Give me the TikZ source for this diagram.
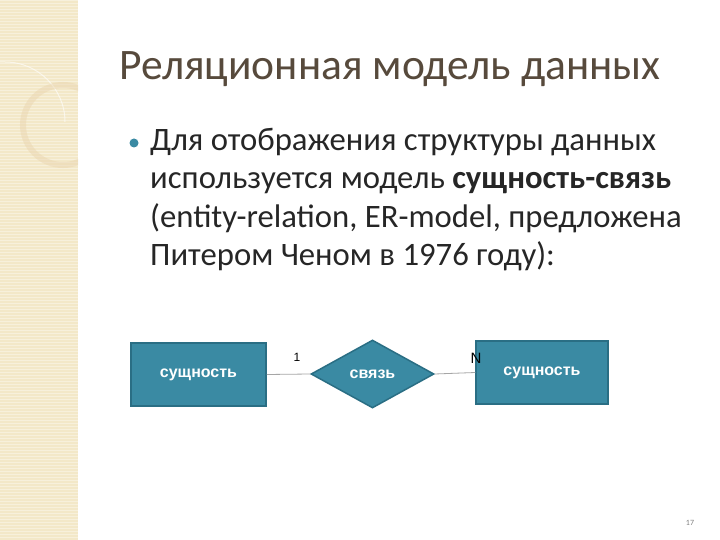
\documentclass[tikz,border=0pt]{standalone}
\usepackage{fontspec}
\setmainfont{Carlito}
\newfontfamily\arialf{Liberation Sans}
\usetikzlibrary{shapes.geometric}
\definecolor{teal1}{HTML}{3A8AA3}
\definecolor{teal2}{HTML}{2A6E84}
\definecolor{strip}{HTML}{F3E8C8}
\definecolor{titlec}{HTML}{574A3C}
\tikzset{
  ent/.style={draw=teal2,line width=1.5pt,fill=teal1,minimum width=135pt,minimum height=63pt,text=white,font=\arialf\bfseries\fontsize{16}{18}\selectfont},
  rel/.style={diamond,draw=teal2,line width=1.5pt,fill=teal1,minimum width=123pt,minimum height=68pt,inner sep=0pt,aspect=1.8,text=white,font=\arialf\bfseries\fontsize{16}{18}\selectfont},
  conn/.style={draw=gray!70,line width=0.8pt},
  card/.style={font=\arialf\fontsize{12}{14}\selectfont},
  body/.style={anchor=base west,font=\fontsize{32.7}{36}\selectfont,text=black!85,inner sep=0pt}
}
\begin{document}
\begin{tikzpicture}[x=1pt,y=-1pt]
\useasboundingbox (0,0) rectangle (720,540);
\fill[white] (0,0) rectangle (720,540);
\fill[strip] (0,0) rectangle (78,540);
\foreach \yy in {0,3,...,540}{\draw[white,opacity=0.35,line width=0.5pt] (0,\yy) -- (78,\yy);}
\begin{scope}
\clip (0,0) rectangle (78,540);
\draw[white,opacity=0.6,line width=1pt] (0,62) -- (5,62) arc[start angle=-90,end angle=0,radius=60];
\draw[strip!80!brown,opacity=0.45,line width=6pt] (63,125) circle[radius=40];
\end{scope}
\node[anchor=base west,inner sep=0pt,text=titlec,font=\fontsize{43.5}{46}\selectfont] (title) at (119,80) {Реляционная модель данных};
\node[circle,fill=teal1,minimum size=9pt,inner sep=0pt] (bul) at (134,143) {};
\node[body] (l1) at (150,151) {Для отображения структуры данных};
\node[body] (l2) at (150,189) {используется модель \textbf{сущность-связь}};
\node[body] (l3) at (150,227) {(entity-relation, ER-model, предложена};
\node[body] (l4) at (150,265) {Питером Ченом в 1976 году):};
\node[ent] (e1) at (198.5,374.5) {сущность};
\node[rel] (r) at (372.5,374) {связь};
\node[ent,minimum width=132pt] (e2) at (542,372.5) {сущность};
\draw[conn] (e1.east) -- (r.west);
\draw[conn] (r.east) -- (e2.west);
\node[card] (c1) at (297,357) {1};
\node[card,font=\arialf\fontsize{15}{17}\selectfont] (c2) at (476,358) {N};
\node[font=\fontsize{8}{9}\selectfont,text=gray] (pg) at (690,523) {17};
\end{tikzpicture}
\end{document}
